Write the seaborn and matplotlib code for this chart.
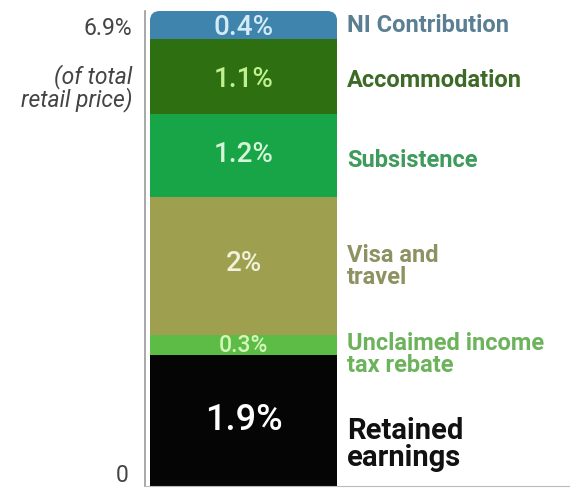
import matplotlib
matplotlib.use("Agg")
import matplotlib.pyplot as plt
import matplotlib.transforms as mtransforms
from matplotlib.patches import FancyBboxPatch
import numpy as np
import pandas as pd
import seaborn as sns

# bottom -> top
SEGMENTS = ["Retained\nearnings", "Unclaimed income\ntax rebate", "Visa and\ntravel",
            "Subsistence", "Accommodation", "NI Contribution"]
VALUES = [1.9, 0.3, 2.0, 1.2, 1.1, 0.4]
VALUE_LABELS = ["1.9%", "0.3%", "2%", "1.2%", "1.1%", "0.4%"]
BAR_COLORS = ["#050505", "#5cbc45", "#9fa04f", "#17a548", "#2e6f12", "#3f84ac"]
TEXT_COLORS = ["#111111", "#6cb35c", "#8e9262", "#3e9b5c", "#3d6a26", "#5b7f92"]
VALUE_COLORS = ["#ffffff", "#d2f7b8", "#f1f1dc", "#d6f5d6", "#bff28f", "#d4ebf6"]
TOTAL = 6.9

sns.set_style("white")
plt.rcParams["font.family"] = ["Roboto", "DejaVu Sans"]

fig = plt.figure(figsize=(5.7, 4.89), dpi=100)
ax = fig.add_axes([145 / 570, 2 / 489, 425 / 570, 475 / 489])

tops = np.cumsum(VALUES)
bars = pd.DataFrame({"group": ["total"] * len(VALUES), "top": tops,
                     "segment": SEGMENTS})
BAR_W = 0.95
# stacked: draw cumulative heights from tallest to shortest
for i in range(len(VALUES) - 1, -1, -1):
    sns.barplot(data=bars.iloc[[i]], x="group", y="top", color=BAR_COLORS[i],
                width=BAR_W, saturation=1, ax=ax, linewidth=0)

ax.set_xlim(-0.5, -0.5 + 425 / 197)
ax.set_ylim(0, TOTAL)

# rounded top corners
clip = FancyBboxPatch((-BAR_W / 2, -1), BAR_W, TOTAL + 1,
                      boxstyle="round,pad=0,rounding_size=0.05",
                      mutation_aspect=(TOTAL / 475) / (1 / 197),
                      transform=ax.transData, facecolor="none", edgecolor="none")
ax.add_patch(clip)
for p in ax.patches:
    if p is not clip:
        p.set_clip_path(clip)

bottoms = tops - np.array(VALUES)
centers = bottoms + np.array(VALUES) / 2
value_sizes = [26, 16.5, 20, 20, 20, 20]
label_sizes = [21, 17, 17, 17, 17, 17]
label_shift = [-0.33, -0.12, 0, -0.05, -0.04, 0]
value_shift = [0.02, 0, 0.05, 0.03, -0.03, -0.02]
for i in range(len(VALUES)):
    ax.text(0, centers[i] + value_shift[i], VALUE_LABELS[i], ha="center",
            va="center", color=VALUE_COLORS[i], fontsize=value_sizes[i],
            fontweight="medium")
    ax.text(0.525, centers[i] + label_shift[i], SEGMENTS[i], ha="left", va="center",
            color=TEXT_COLORS[i], fontsize=label_sizes[i], fontweight="bold",
            linespacing=0.95)

ax.set_yticks([0])
ax.set_yticklabels(["0"], color="#444444", fontsize=16.5)
ax.get_yticklabels()[0].set_va("bottom")
ax.tick_params(axis="y", length=0, pad=12)
ax.set_xticks([])
ax.set_xlabel("")
ax.set_ylabel("")

trans = mtransforms.blended_transform_factory(ax.transAxes, ax.transData)
ax.text(-0.03, TOTAL - 0.24, "6.9%", transform=trans, ha="right", va="center",
        color="#444444", fontsize=16.5)
ax.text(-0.03, 5.8, "(of total\nretail price)", transform=trans, ha="right",
        va="center", style="italic", color="#444444", fontsize=16.5,
        linespacing=0.9)

for side in ("top", "right"):
    ax.spines[side].set_visible(False)
ax.spines["left"].set_color("#999999")
ax.spines["bottom"].set_color("#bbbbbb")
ax.spines["left"].set_linewidth(1.2)

fig.savefig("out.png", dpi=100)
